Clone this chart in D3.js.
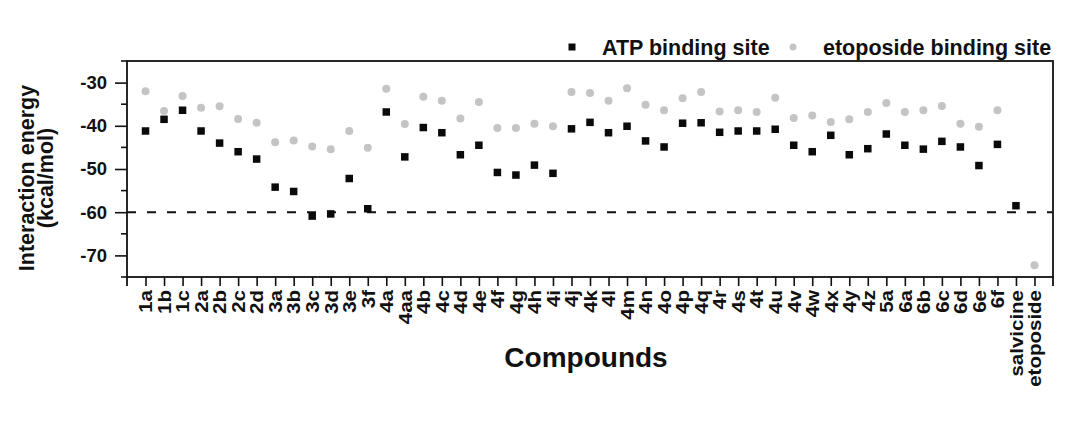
<!DOCTYPE html>
<html>
<head>
<meta charset="utf-8">
<script src="https://cdn.jsdelivr.net/npm/d3@7"></script>
<style>
  html, body { margin: 0; padding: 0; background: #fff; }
  svg { display: block; font-family: "Liberation Sans", Arial, Helvetica, sans-serif; font-weight: bold; }
</style>
</head>
<body>
<svg id="chart" width="1070" height="430"></svg>
<script>
const categories = ["1a","1b","1c","2a","2b","2c","2d","3a","3b","3c","3d","3e","3f","4a","4aa","4b","4c","4d","4e","4f","4g","4h","4i","4j","4k","4l","4m","4n","4o","4p","4q","4r","4s","4t","4u","4v","4w","4x","4y","4z","5a","6a","6b","6c","6d","6e","6f","salvicine","etoposide"];
const atpSite = [-41.2,-38.5,-36.4,-41.2,-44.0,-46.0,-47.7,-54.2,-55.2,-60.9,-60.4,-52.2,-59.2,-36.8,-47.2,-40.4,-41.6,-46.7,-44.5,-50.8,-51.4,-49.1,-51.0,-40.7,-39.2,-41.6,-40.1,-43.5,-44.9,-39.4,-39.3,-41.5,-41.2,-41.2,-40.8,-44.5,-46.0,-42.2,-46.7,-45.3,-41.9,-44.5,-45.4,-43.6,-44.9,-49.2,-44.3,-58.5,null];
const etoposideSite = [-32.0,-36.6,-33.1,-35.8,-35.5,-38.4,-39.3,-43.8,-43.4,-44.8,-45.4,-41.2,-45.1,-31.4,-39.6,-33.3,-34.2,-38.3,-34.5,-40.5,-40.5,-39.5,-40.1,-32.2,-32.4,-34.2,-31.3,-35.1,-36.4,-33.6,-32.2,-36.7,-36.4,-36.8,-33.5,-38.2,-37.6,-39.1,-38.5,-36.8,-34.7,-36.8,-36.4,-35.4,-39.5,-40.2,-36.4,null,-72.3];
const yTicks = [-30,-40,-50,-60,-70];
const yMinorTicks = [-25,-35,-45,-55,-65,-75];
const thresholdValue = -60;
const seriesNames = ["ATP binding site","etoposide binding site"];
const xTitle = "Compounds";
const yTitleLines = ["Interaction energy","(kcal/mol)"];

const svg = d3.select("#chart");
const L = 127, R = 1053, T = 61, B = 277;

const x = d3.scalePoint().domain(categories).range([L, R]).padding(1);
const y = d3.scaleLinear().domain([-75, -25]).range([B, T]);

// dashed threshold line
svg.append("line")
  .attr("x1", L).attr("x2", R)
  .attr("y1", y(thresholdValue)).attr("y2", y(thresholdValue))
  .attr("stroke", "#111").attr("stroke-width", 2)
  .attr("stroke-dasharray", "9,11");

// y axis major
const yAxis = svg.append("g").attr("transform", `translate(${L},0)`)
  .call(d3.axisLeft(y).tickValues(yTicks).tickSize(12).tickPadding(8).tickFormat(d => String(d)));
yAxis.select(".domain").remove();
yAxis.selectAll("line").attr("stroke", "#111").attr("stroke-width", 1.6);
yAxis.selectAll("text").attr("font-size", 18.5).attr("font-weight", "bold").attr("fill", "#111")
  .attr("font-family", "Liberation Sans, Arial, sans-serif");

// y minor ticks
svg.append("g").selectAll("line").data(yMinorTicks).join("line")
  .attr("x1", L - 6).attr("x2", L)
  .attr("y1", d => y(d)).attr("y2", d => y(d))
  .attr("stroke", "#111").attr("stroke-width", 1.6);

// x axis
const xAxis = svg.append("g").attr("transform", `translate(0,${B})`)
  .call(d3.axisBottom(x).tickSize(9).tickFormat(""));
xAxis.select(".domain").remove();
xAxis.selectAll("line").attr("stroke", "#111").attr("stroke-width", 1.6);

// edge ticks of frame
[L, R].forEach(px => {
  svg.append("line").attr("x1", px).attr("x2", px).attr("y1", B).attr("y2", B + 9)
    .attr("stroke", "#111").attr("stroke-width", 1.8);
});

// x tick labels (rotated)
svg.append("g").selectAll("text").data(categories).join("text")
  .attr("transform", d => `translate(${x(d)},${B + 13}) rotate(-90) scale(1,0.92)`)
  .attr("text-anchor", "end")
  .attr("dy", "0.36em")
  .attr("font-size", 20.5)
  .attr("fill", "#111")
  .text(d => d);

// frame
svg.append("rect").attr("x", L).attr("y", T).attr("width", R - L).attr("height", B - T)
  .attr("fill", "none").attr("stroke", "#111").attr("stroke-width", 1.8);

// etoposide site points (gray circles)
const etoData = categories.map((c, i) => ({c, v: etoposideSite[i]})).filter(d => d.v !== null);
svg.append("g").selectAll("circle").data(etoData).join("circle")
  .attr("cx", d => x(d.c)).attr("cy", d => y(d.v)).attr("r", 4)
  .attr("fill", "#c4c4c4");

// ATP site points (black squares)
const atpData = categories.map((c, i) => ({c, v: atpSite[i]})).filter(d => d.v !== null);
const sq = 7.5;
svg.append("g").selectAll("rect").data(atpData).join("rect")
  .attr("x", d => x(d.c) - sq / 2).attr("y", d => y(d.v) - sq / 2)
  .attr("width", sq).attr("height", sq)
  .attr("fill", "#0a0a0a");

// legend
const lg = svg.append("g");
lg.append("rect").attr("x", 572 - 3.5).attr("y", 47 - 3.5).attr("width", 7).attr("height", 7).attr("fill", "#0a0a0a");
lg.append("text").attr("x", 602).attr("y", 55).attr("font-size", 21.5).attr("fill", "#111").text(seriesNames[0]);
lg.append("circle").attr("cx", 793).attr("cy", 47).attr("r", 3.5).attr("fill", "#c4c4c4");
lg.append("text").attr("x", 823).attr("y", 55).attr("font-size", 21.5).attr("fill", "#111").text(seriesNames[1]);

// axis titles
svg.append("text").attr("x", 586).attr("y", 367).attr("text-anchor", "middle")
  .attr("font-size", 28).attr("fill", "#111").text(xTitle);

const yt = svg.append("text").attr("transform", "translate(0,178) rotate(-90)")
  .attr("text-anchor", "middle").attr("font-size", 21.5).attr("fill", "#111");
yt.append("tspan").attr("x", 0).attr("y", 34).text(yTitleLines[0]);
yt.append("tspan").attr("x", 0).attr("y", 53).text(yTitleLines[1]);
</script>
</body>
</html>
